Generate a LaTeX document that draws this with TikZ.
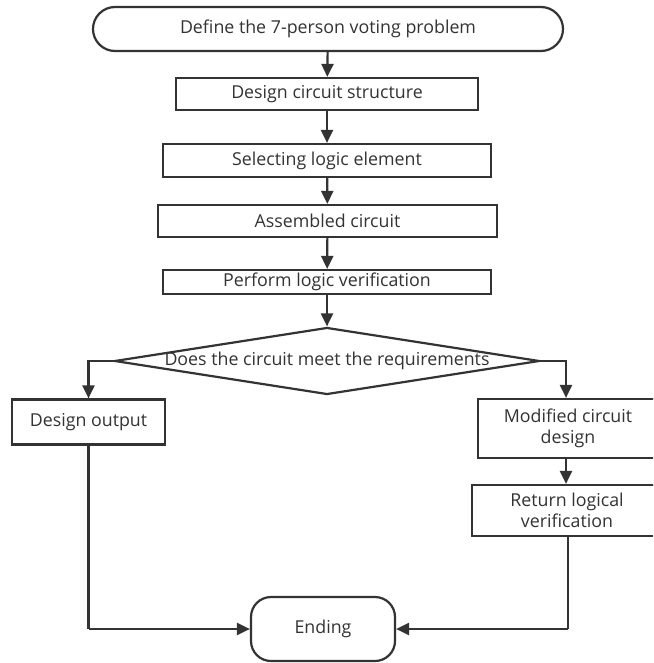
\documentclass[tikz,border=0pt]{standalone}
\usepackage{fontspec}
\setmainfont{Open Sans}
\usetikzlibrary{arrows.meta,shapes.geometric}
\definecolor{ink}{HTML}{333333}
\begin{document}
\begin{tikzpicture}[x=1pt,y=-1pt,
  every node/.style={font=\fontsize{17.8}{21}\selectfont, text=ink},
  box/.style={draw=ink, line width=2.2pt, fill=white, inner sep=0pt, align=center},
  term/.style={box, rounded corners=20pt},
  arr/.style={draw=ink, line width=2.2pt, -{Triangle[length=13pt,width=12pt]}},
  ln/.style={draw=ink, line width=2.2pt}]
\clip (0,0) rectangle (653,663);
\fill[white] (0,0) rectangle (653,663);

\node[term, rounded corners=22pt, minimum width=470pt, minimum height=44pt] (start) at (328,29) {Define the 7-person voting problem};
\node[box, minimum width=302pt, minimum height=32pt] (s1) at (327,94) {Design circuit structure};
\node[box, minimum width=328pt, minimum height=33pt] (s2) at (327,160.5) {Selecting logic element};
\node[box, minimum width=339pt, minimum height=32pt] (s3) at (327.5,221) {Assembled circuit};
\node[box, minimum width=328pt, minimum height=24pt] (s4) at (327,282) {Perform logic verification};
\node[draw=ink, line width=2.2pt, diamond, fill=white, minimum width=425pt, minimum height=67pt, inner sep=0pt] (dec) at (327,361) {};
\node at (327,361) (dect) {Does the circuit meet the requirements};
\node[box, minimum width=153pt, minimum height=45pt] (dout) at (88.5,422) {Design output};
\node[box, minimum width=180pt, minimum height=59pt] (mod) at (568,428.5) {Modified circuit\\design};
\node[box, minimum width=190pt, minimum height=51pt] (ret) at (567,510.5) {Return logical\\verification};
\node[term, minimum width=144pt, minimum height=64pt] (end) at (323,629) {Ending};

\draw[arr] (start) -- (s1);
\draw[arr] (s1) -- (s2);
\draw[arr] (s2) -- (s3);
\draw[arr] (s3) -- (s4);
\draw[arr] (s4) -- (dec.north);
\draw[arr] (dec.west) -| (dout.north);
\draw[arr] (dec.east) -| ([xshift=-2pt]mod.north);
\draw[arr] ([xshift=-2pt]mod.south) -- ([xshift=-1pt]ret.north);
\coordinate (lc) at (dout.south |- end.west);
\coordinate (rc) at ([xshift=1pt]ret.south |- end.east);
\draw[ln] (dout.south) -- (lc);
\draw[arr] (lc) -- (end.west);
\draw[ln] ([xshift=1pt]ret.south) -- (rc);
\draw[arr] (rc) -- (end.east);
\end{tikzpicture}
\end{document}
